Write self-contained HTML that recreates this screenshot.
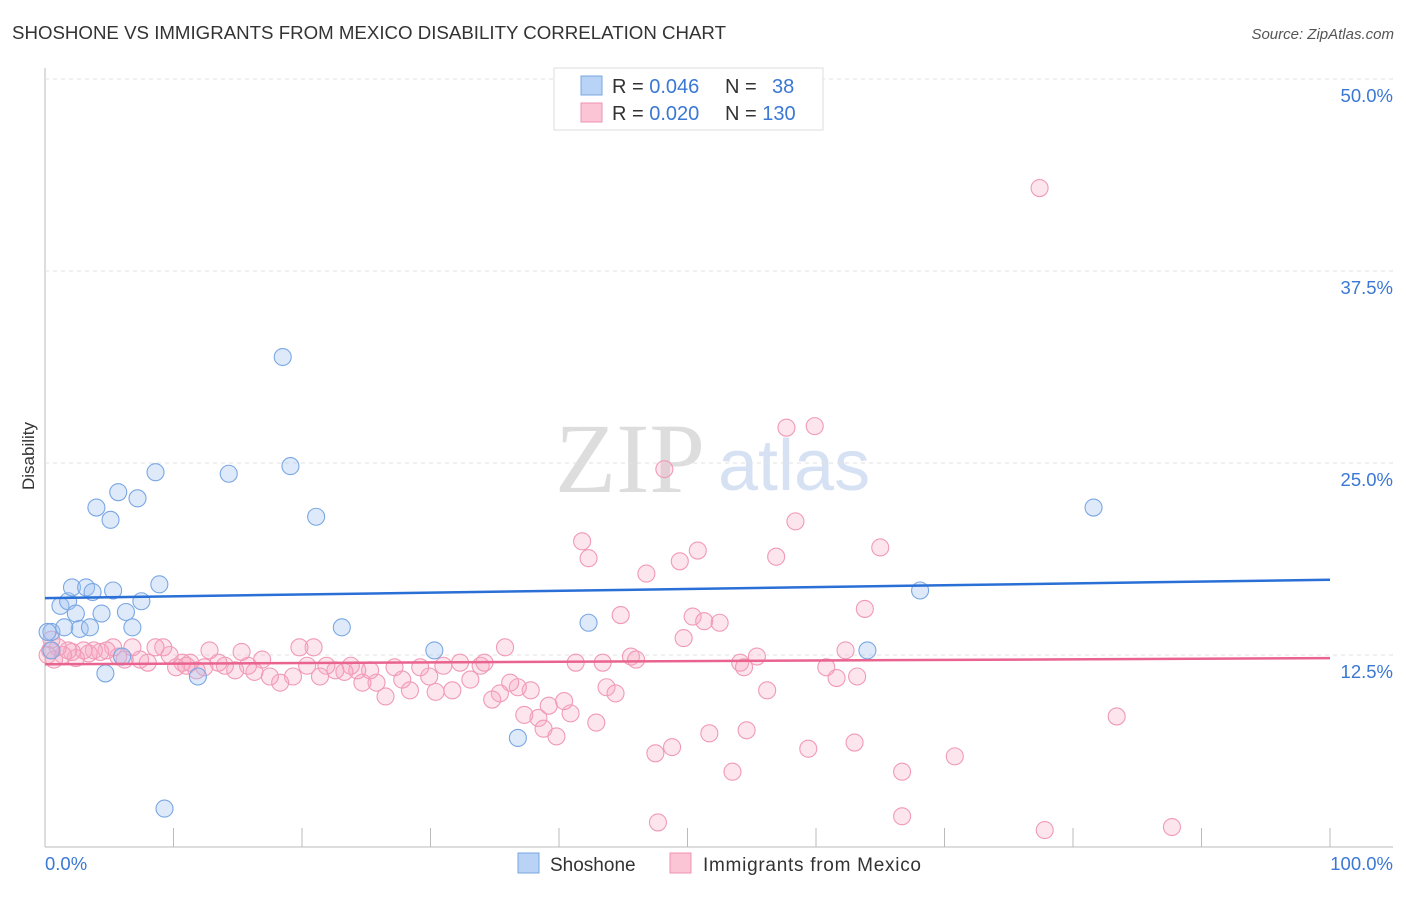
<!DOCTYPE html>
<html><head><meta charset="utf-8"><style>
body{margin:0;background:#fff;font-family:"Liberation Sans",sans-serif;}
</style></head><body>
<svg id="chart" width="1406" height="892" xmlns="http://www.w3.org/2000/svg">
<text x="12" y="39" font-size="18" fill="#333" textLength="714" lengthAdjust="spacingAndGlyphs">SHOSHONE VS IMMIGRANTS FROM MEXICO DISABILITY CORRELATION CHART</text>
<text x="1394" y="39" font-size="15" fill="#555" text-anchor="end" font-style="italic">Source: ZipAtlas.com</text>
<text x="0" y="0" transform="translate(34,456) rotate(-90)" font-size="17" fill="#333" text-anchor="middle">Disability</text>
<text x="555" y="492" font-size="100" fill="#ddd" font-family="Liberation Serif,serif">ZIP</text>
<text x="718" y="490" font-size="72" fill="#d6e2f3">atlas</text>
<g id="grid"></g><g id="pts"></g><g id="lines"></g>
<g>
<rect x="554" y="68" width="269" height="62" fill="#fff" stroke="#ddd"/>
<rect x="581" y="76" width="21" height="19" fill="#b8d3f5" stroke="#7aa7e0"/>
<rect x="581" y="103" width="21" height="19" fill="#fcc5d6" stroke="#ee93b0"/>
<text x="612" y="93" font-size="20" fill="#333">R = <tspan fill="#3a78d4">0.046</tspan></text>
<text x="725" y="93" font-size="20" fill="#333">N = <tspan fill="#3a78d4" x="772">38</tspan></text>
<text x="612" y="120" font-size="20" fill="#333">R = <tspan fill="#3a78d4">0.020</tspan></text>
<text x="725" y="120" font-size="20" fill="#333">N = <tspan fill="#3a78d4">130</tspan></text>
</g>
<g>
<rect x="518" y="853" width="21" height="20" fill="#b8d3f5" stroke="#7aa7e0"/>
<text x="550" y="871" font-size="19" fill="#333">Shoshone</text>
<rect x="670" y="853" width="21" height="20" fill="#fcc5d6" stroke="#ee93b0"/>
<text x="703" y="871" font-size="19" fill="#333" textLength="218">Immigrants from Mexico</text>
</g>
</svg>
<script>
const yTicks=[12.5,25,37.5,50];
const yTickLabels=["12.5%","25.0%","37.5%","50.0%"];
const blueX=[0.5,1.2,1.8,2.1,2.4,2.7,3.2,3.5,3.7,4.0,4.4,4.7,5.1,5.3,5.7,6.0,6.3,6.8,7.2,7.5,8.6,8.9,9.3,11.9,14.3,18.5,19.1,21.1,23.1,30.3,36.8,42.3,64.0,68.1,81.6,0.2,0.5,1.5];
const blueY=[14.0,15.7,16.0,16.9,15.2,14.2,16.9,14.3,16.6,22.1,15.2,11.3,21.3,16.7,23.1,12.4,15.3,14.3,22.7,16.0,24.4,17.1,2.5,11.1,24.3,31.9,24.8,21.5,14.3,12.8,7.1,14.6,12.8,16.7,22.1,14.0,12.8,14.3];
const pinkX=[77.4,57.7,59.9,48.2,58.4,41.8,42.3,50.8,49.4,56.9,65.0,46.8,44.8,50.4,51.3,52.5,63.8,49.7,83.4,70.8,66.7,63.0,59.4,54.6,53.5,51.7,48.8,47.5,47.7,66.7,77.8,87.7,56.2,61.6,63.2,60.8,62.3,54.1,54.4,55.4,45.6,46.0,43.4,41.3,43.7,44.4,42.9,40.9,40.4,39.2,38.4,37.3,38.8,39.8,37.8,36.8,36.2,35.4,34.8,33.9,34.2,35.8,33.1,32.3,31.7,31.0,30.4,29.9,29.2,28.4,27.8,27.2,26.5,25.8,25.3,24.7,24.3,23.8,23.3,22.6,21.9,21.4,20.9,20.4,19.8,19.3,18.3,17.5,16.9,16.3,15.8,15.3,14.8,14.0,13.5,12.8,12.4,11.8,11.3,10.7,10.2,9.7,9.2,8.6,8.0,7.4,6.8,6.2,5.7,5.3,4.8,4.3,3.8,3.4,3.0,2.4,2.1,1.8,1.4,1.0,0.7,0.4,0.2,0.5,11.0];
const pinkY=[42.9,27.3,27.4,24.6,21.2,19.9,18.8,19.3,18.6,18.9,19.5,17.8,15.1,15.0,14.7,14.6,15.5,13.6,8.5,5.9,4.9,6.8,6.4,7.6,4.9,7.4,6.5,6.1,1.6,2.0,1.1,1.3,10.2,11.0,11.1,11.7,12.8,12.0,11.7,12.4,12.4,12.2,12.0,12.0,10.4,10.0,8.1,8.7,9.5,9.2,8.4,8.6,7.7,7.2,10.2,10.4,10.7,10.0,9.6,11.8,12.0,13.0,10.9,12.0,10.2,11.8,10.1,11.1,11.7,10.2,10.9,11.7,9.8,10.7,11.5,10.7,11.5,11.8,11.4,11.5,11.8,11.1,13.0,11.8,13.0,11.1,10.7,11.1,12.2,11.4,11.8,12.7,11.5,11.8,12.0,12.8,11.7,11.5,12.0,12.0,11.7,12.5,13.0,13.0,12.0,12.2,13.0,12.2,12.4,13.0,12.8,12.7,12.8,12.6,12.8,12.3,12.7,12.8,12.5,13.0,12.2,12.8,12.5,13.5,11.8];
const blueTrend=[16.2,17.4];
const pinkTrend=[11.9,12.3];
const NS='http://www.w3.org/2000/svg';
const X0=45,X1=1330,Y0=847,PXPP=15.36;
const sx=v=>X0+(X1-X0)*v/100, sy=v=>Y0-v*PXPP;
function mk(t,a,p){const e=document.createElementNS(NS,t);for(const k in a)e.setAttribute(k,a[k]);p.appendChild(e);return e;}
const g=document.getElementById('grid');
let ax=mk('line',{x1:45,y1:68,x2:45,y2:847,stroke:'#bbb'},g);


let bx=mk('line',{x1:45,y1:847,x2:1393,y2:847,stroke:'#bbb'},g);


yTicks.forEach((v,i)=>{
 const l=mk('line',{x1:45,x2:1393,y1:sy(v),y2:sy(v),stroke:'#e2e2e2','stroke-dasharray':'4,4'},g);
 
 
 const t=mk('text',{x:1393,y:sy(v)+23,'font-size':18.5,fill:'#3a78d4','text-anchor':'end'},g);
 t.textContent=yTickLabels[i];
 
 
});
for(let i=0;i<=10;i++){
 const tk=mk('line',{x1:sx(i*10),x2:sx(i*10),y1:828,y2:847,stroke:'#bbb'},g);
 
 
}
const xl=mk('text',{x:45,y:870,'font-size':18.5,fill:'#3a78d4'},g);xl.textContent='0.0%';


const xr=mk('text',{x:1393,y:870,'font-size':18.5,fill:'#3a78d4','text-anchor':'end'},g);xr.textContent='100.0%';


const P=document.getElementById('pts');
pinkX.forEach((x,i)=>{
 const c=mk('circle',{cx:sx(x),cy:sy(pinkY[i]),r:8.5,fill:'rgba(247,170,195,0.3)',stroke:'#f09ab6','stroke-width':1.1},P);
 
 
});
blueX.forEach((x,i)=>{
 const c=mk('circle',{cx:sx(x),cy:sy(blueY[i]),r:8.5,fill:'rgba(160,195,240,0.35)',stroke:'#7aa7e3','stroke-width':1.1},P);
 
 
});
const L=document.getElementById('lines');
const b=mk('line',{x1:sx(0),x2:sx(100),y1:sy(blueTrend[0]),y2:sy(blueTrend[1]),stroke:'#2a6fd6','stroke-width':2.5},L);


const p=mk('line',{x1:sx(0),x2:sx(100),y1:sy(pinkTrend[0]),y2:sy(pinkTrend[1]),stroke:'#e9638f','stroke-width':2.5},L);


</script>
</body></html>
